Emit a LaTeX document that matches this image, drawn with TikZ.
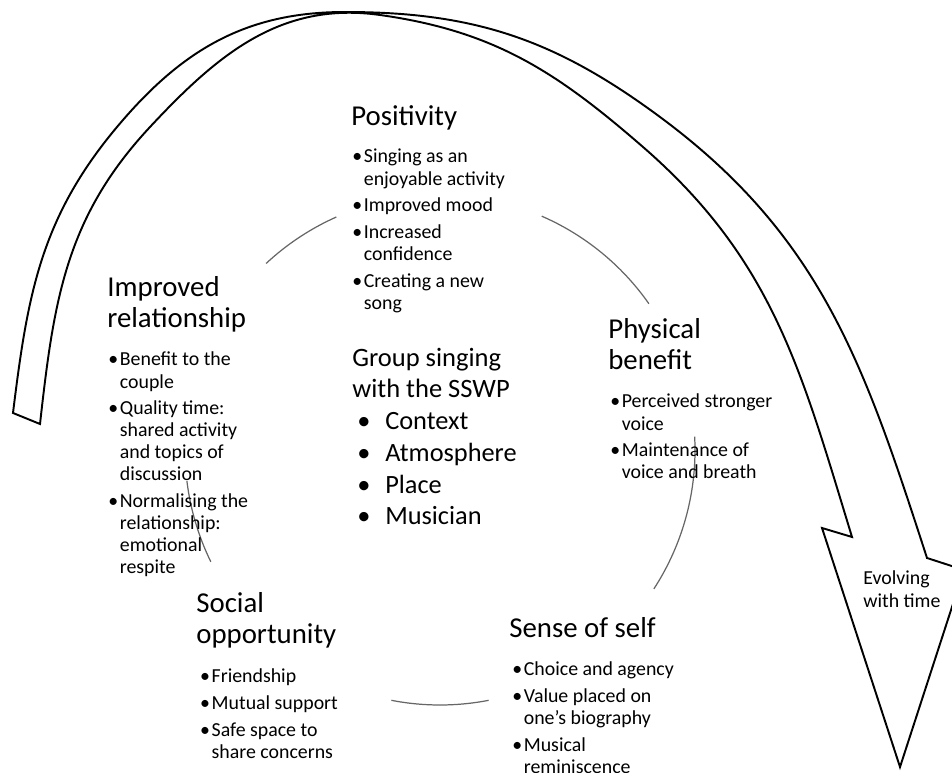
\documentclass[tikz,border=0pt]{standalone}
\usepackage{fontspec}
\setmainfont{Carlito}
\usetikzlibrary{positioning}

\tikzstyle{headText} = [anchor=base west, inner sep=0pt, font=\fontsize{16.4}{17.4}\selectfont]
\tikzstyle{hubHead} = [anchor=base west, inner sep=0pt, font=\fontsize{15.1}{17.1}\selectfont]
\tikzstyle{hubList} = [anchor=base west, inner sep=0pt, font=\fontsize{15}{18}\selectfont]
\tikzstyle{bulletList} = [anchor=base west, inner sep=0pt, font=\fontsize{11.3}{12.6}\selectfont]
\tikzstyle{ringArc} = [draw=black!60, line width=0.7pt]
\tikzstyle{timeArrow} = [draw=black, line width=1.1pt, line join=miter]

\newcommand{\lines}[1]{\begin{tabular}[t]{@{}l@{}}#1\end{tabular}}
\newcommand{\bul}{\makebox[0.23cm][l]{\textbullet}}
\newcommand{\cont}{\hspace*{0.23cm}}
\newcommand{\hubBul}{\makebox[0.56cm][l]{\textbullet}}

\begin{document}
\begin{tikzpicture}[x=0.02cm, y=0.02cm]
    \useasboundingbox (0,0) rectangle (952,773);

    % the big curved arrow
    \coordinate (outerTail) at (13,360);
    \coordinate (innerTail) at (40,349);
    \coordinate (outerEnd) at (927,215);
    \coordinate (innerEnd) at (852,236);
    \coordinate (leftBarb) at (822,245);
    \coordinate (rightBarb) at (964,203);
    \coordinate (tip) at (900,6);

    \draw [timeArrow] (outerTail) to[out=83, in=230] (117,646) to[out=50, in=180] (345,761)
        to[out=0, in=143.5] (660,656) to[out=-36.5, in=108] (outerEnd)
        -- (rightBarb) -- (tip) -- (leftBarb) -- (innerEnd)
        to[out=107, in=-41] (643,626) to[out=139, in=-8] (380,758)
        to[out=172, in=47] (150,646) to[out=227, in=83.6] (innerTail) -- cycle;

    \node (timeLabel) [bulletList] at (863,188) {\lines{Evolving\\with time}};

    % ring between the themes
    \coordinate (hub) at (440,323);
    \foreach \a/\b in {114/133, 35/66.5, -33/3, -101/-79, 187/206} {
        \draw [ringArc] (hub) ++(\a:255) arc[start angle=\a, end angle=\b, radius=255];
    }

    % centre
    \node (grpHead) [hubHead] at (352,406) {\lines{Group singing\\with the SSWP}};
    \node (grpList) [hubList, below=1.26cm of grpHead.base west, anchor=base west, xshift=2.8pt] {\lines{\hubBul Context\\ \hubBul Atmosphere\\ \hubBul Place\\ \hubBul Musician}};

    % themes
    \node (posHead) [headText] at (351,647) {Positivity};
    \node (posList) [bulletList, below=0.74cm of posHead.base west, anchor=base west, xshift=0.6pt] {\lines{\bul Singing as an\\ \cont enjoyable activity\\[2.6pt] \bul Improved mood\\[2.6pt] \bul Increased\\ \cont confidence\\[2.6pt] \bul Creating a new\\ \cont song}};

    \node (relHead) [headText] at (107,476) {\lines{Improved\\relationship}};
    \node (relList) [bulletList, below=1.38cm of relHead.base west, anchor=base west, xshift=0.6pt] {\lines{\bul Benefit to the\\ \cont couple\\[2.4pt] \bul Quality time:\\ \cont shared activity\\ \cont and topics of\\ \cont discussion\\[2.4pt] \bul Normalising the\\ \cont relationship:\\ \cont emotional\\ \cont respite}};

    \node (phyHead) [headText] at (608,434) {\lines{Physical\\benefit}};
    \node (phyList) [bulletList, below=1.38cm of phyHead.base west, anchor=base west, xshift=1.1pt] {\lines{\bul Perceived stronger\\ \cont voice\\[2.6pt] \bul Maintenance of\\ \cont voice and breath}};

    \node (socHead) [headText] at (196,160) {\lines{Social\\opportunity}};
    \node (socList) [bulletList, below=1.40cm of socHead.base west, anchor=base west, xshift=2.2pt] {\lines{\bul Friendship\\[2.6pt] \bul Mutual support\\[2.6pt] \bul Safe space to\\ \cont share concerns}};

    \node (selfHead) [headText] at (509,135) {Sense of self};
    \node (selfList) [bulletList, below=0.76cm of selfHead.base west, anchor=base west, xshift=1.7pt] {\lines{\bul Choice and agency\\[2.6pt] \bul Value placed on\\ \cont one’s biography\\[2.6pt] \bul Musical\\ \cont reminiscence}};

\end{tikzpicture}
\end{document}
